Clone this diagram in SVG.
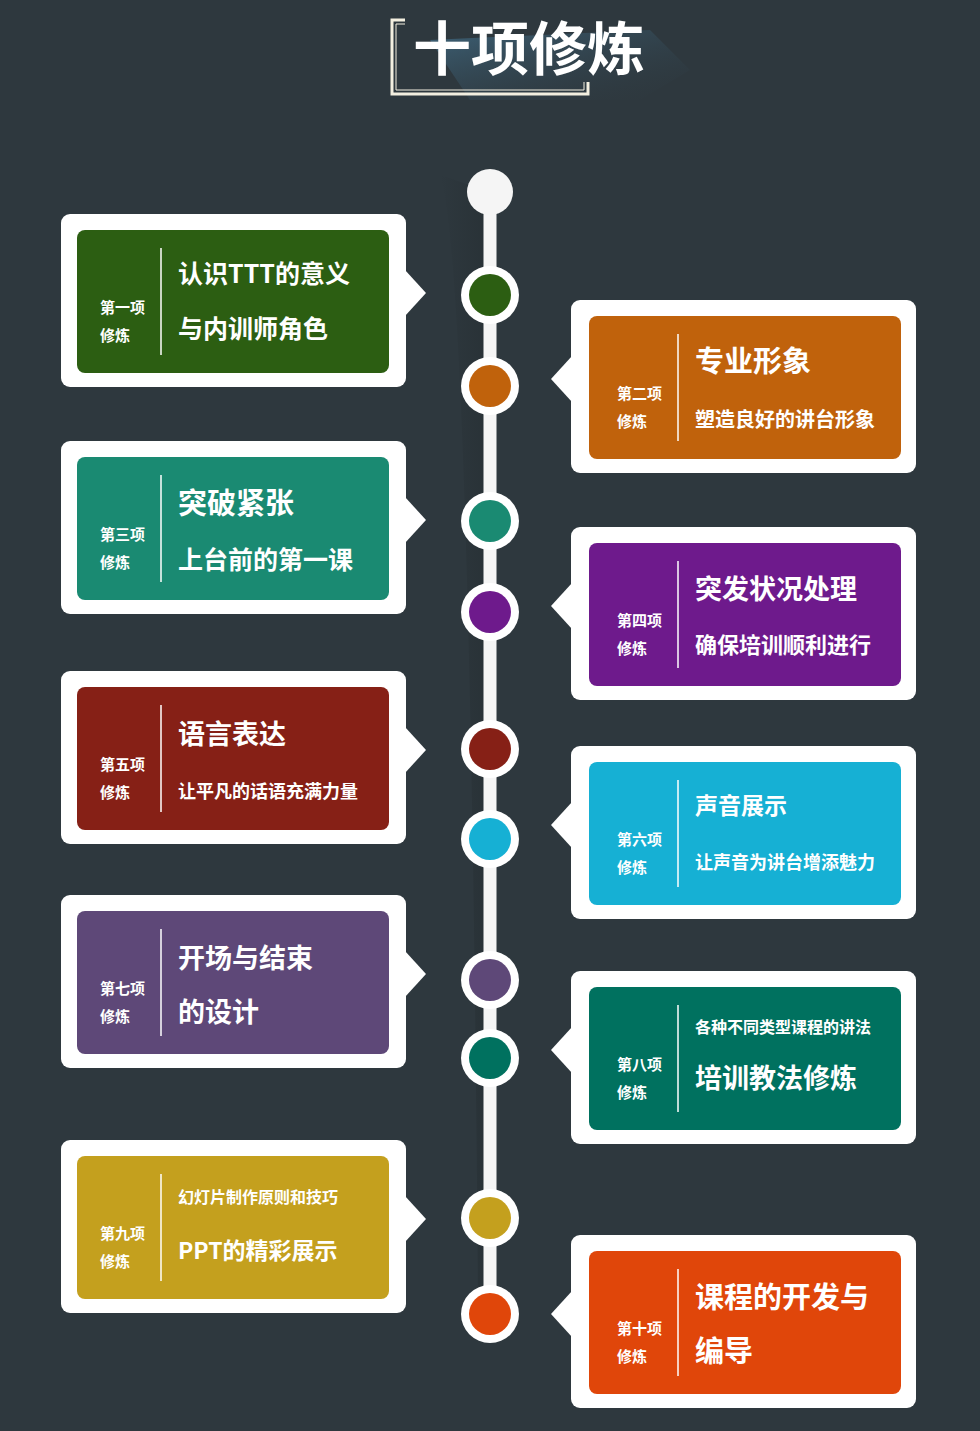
<svg xmlns="http://www.w3.org/2000/svg" width="980" height="1431" viewBox="0 0 980 1431">
<style>
text{font-family:"Noto Sans CJK SC","Liberation Sans",sans-serif;font-weight:bold;fill:#fff}
.lb{font-size:15px}
.card{fill:#fff}
.div{stroke:#fff;stroke-width:1.5}
.ring{fill:#fff}
</style>
<defs>
<linearGradient id="sh" x1="0" y1="0" x2="1" y2="1"><stop offset="0" stop-color="#3d6278"/><stop offset="1" stop-color="#2e383e" stop-opacity="0"/></linearGradient>
<linearGradient id="ls" x1="0" y1="0" x2="1" y2="0"><stop offset="0" stop-color="#1e2528" stop-opacity="0"/><stop offset="1" stop-color="#1e2528" stop-opacity="0.6"/></linearGradient>
</defs>
<rect width="980" height="1431" fill="#2e383e"/>
<g id="title">
<polygon points="430,40 650,30 690,70 640,100 470,100" fill="url(#sh)"/>
<path d="M405,20 H392 V94 H588 V82" fill="none" stroke="#f3efe0" stroke-width="3"/>
<path d="M405,24 H396 V90 H584 V82" fill="none" stroke="#f3efe0" stroke-width="1"/>
<text x="413" y="70" font-size="58">十项修炼</text>
</g>
<g id="connectors">
<path d="M440,175 Q470,260 478,1300 L484,1300 L484,190 Z" fill="url(#ls)" opacity="0.5"/>
<line x1="490" y1="192" x2="490" y2="1314" stroke="#f5f5f5" stroke-width="13"/>
<circle cx="490" cy="192" r="23" fill="#f5f5f5"/>
</g>
<g id="circles">
<circle class="ring" cx="490" cy="295" r="29"/><circle cx="490" cy="295" r="21" fill="#2c5e12"/>
<circle class="ring" cx="490" cy="386" r="29"/><circle cx="490" cy="386" r="21" fill="#c0620c"/>
<circle class="ring" cx="490" cy="521" r="29"/><circle cx="490" cy="521" r="21" fill="#1a8a72"/>
<circle class="ring" cx="490" cy="612" r="29"/><circle cx="490" cy="612" r="21" fill="#6e1a8c"/>
<circle class="ring" cx="490" cy="749" r="29"/><circle cx="490" cy="749" r="21" fill="#862016"/>
<circle class="ring" cx="490" cy="839" r="29"/><circle cx="490" cy="839" r="21" fill="#16b0d4"/>
<circle class="ring" cx="490" cy="980" r="29"/><circle cx="490" cy="980" r="21" fill="#5e4878"/>
<circle class="ring" cx="490" cy="1058" r="29"/><circle cx="490" cy="1058" r="21" fill="#00715f"/>
<circle class="ring" cx="490" cy="1218" r="29"/><circle cx="490" cy="1218" r="21" fill="#c4a01e"/>
<circle class="ring" cx="490" cy="1314" r="29"/><circle cx="490" cy="1314" r="21" fill="#e0460a"/>
</g>
<g id="n1"><rect class="card" x="61" y="214" width="345" height="173" rx="9"/><polygon class="card" points="405,270 426,293 405,316"/>
<rect x="77" y="230" width="312" height="143" rx="8" fill="#2c5e12"/><line class="div" x1="161" y1="248" x2="161" y2="355"/>
<text class="lb" x="100" y="313">第一项</text><text class="lb" x="100" y="341">修炼</text>
<text x="178" y="283" font-size="25">认识TTT的意义</text><text x="178" y="338" font-size="25">与内训师角色</text></g>
<g id="n2"><rect class="card" x="571" y="300" width="345" height="173" rx="9"/><polygon class="card" points="572,356 551,379 572,402"/>
<rect x="589" y="316" width="312" height="143" rx="8" fill="#c0620c"/><line class="div" x1="678" y1="334" x2="678" y2="441"/>
<text class="lb" x="617" y="399">第二项</text><text class="lb" x="617" y="427">修炼</text>
<text x="695" y="372" font-size="29">专业形象</text><text x="695" y="427" font-size="20">塑造良好的讲台形象</text></g>
<g id="n3"><rect class="card" x="61" y="441" width="345" height="173" rx="9"/><polygon class="card" points="405,497 426,520 405,543"/>
<rect x="77" y="457" width="312" height="143" rx="8" fill="#1a8a72"/><line class="div" x1="161" y1="475" x2="161" y2="582"/>
<text class="lb" x="100" y="540">第三项</text><text class="lb" x="100" y="568">修炼</text>
<text x="178" y="514" font-size="29">突破紧张</text><text x="178" y="569" font-size="25">上台前的第一课</text></g>
<g id="n4"><rect class="card" x="571" y="527" width="345" height="173" rx="9"/><polygon class="card" points="572,583 551,606 572,629"/>
<rect x="589" y="543" width="312" height="143" rx="8" fill="#6e1a8c"/><line class="div" x1="678" y1="561" x2="678" y2="668"/>
<text class="lb" x="617" y="626">第四项</text><text class="lb" x="617" y="654">修炼</text>
<text x="695" y="599" font-size="27">突发状况处理</text><text x="695" y="653" font-size="22">确保培训顺利进行</text></g>
<g id="n5"><rect class="card" x="61" y="671" width="345" height="173" rx="9"/><polygon class="card" points="405,727 426,750 405,773"/>
<rect x="77" y="687" width="312" height="143" rx="8" fill="#862016"/><line class="div" x1="161" y1="705" x2="161" y2="812"/>
<text class="lb" x="100" y="770">第五项</text><text class="lb" x="100" y="798">修炼</text>
<text x="178" y="744" font-size="27">语言表达</text><text x="178" y="798" font-size="18">让平凡的话语充满力量</text></g>
<g id="n6"><rect class="card" x="571" y="746" width="345" height="173" rx="9"/><polygon class="card" points="572,802 551,825 572,848"/>
<rect x="589" y="762" width="312" height="143" rx="8" fill="#16b0d4"/><line class="div" x1="678" y1="780" x2="678" y2="887"/>
<text class="lb" x="617" y="845">第六项</text><text class="lb" x="617" y="873">修炼</text>
<text x="695" y="814" font-size="23">声音展示</text><text x="695" y="869" font-size="18">让声音为讲台增添魅力</text></g>
<g id="n7"><rect class="card" x="61" y="895" width="345" height="173" rx="9"/><polygon class="card" points="405,951 426,974 405,997"/>
<rect x="77" y="911" width="312" height="143" rx="8" fill="#5e4878"/><line class="div" x1="161" y1="929" x2="161" y2="1036"/>
<text class="lb" x="100" y="994">第七项</text><text class="lb" x="100" y="1022">修炼</text>
<text x="178" y="968" font-size="27">开场与结束</text><text x="178" y="1022" font-size="27">的设计</text></g>
<g id="n8"><rect class="card" x="571" y="971" width="345" height="173" rx="9"/><polygon class="card" points="572,1027 551,1050 572,1073"/>
<rect x="589" y="987" width="312" height="143" rx="8" fill="#00715f"/><line class="div" x1="678" y1="1005" x2="678" y2="1112"/>
<text class="lb" x="617" y="1070">第八项</text><text class="lb" x="617" y="1098">修炼</text>
<text x="695" y="1033" font-size="16">各种不同类型课程的讲法</text><text x="695" y="1088" font-size="27">培训教法修炼</text></g>
<g id="n9"><rect class="card" x="61" y="1140" width="345" height="173" rx="9"/><polygon class="card" points="405,1196 426,1219 405,1242"/>
<rect x="77" y="1156" width="312" height="143" rx="8" fill="#c4a01e"/><line class="div" x1="161" y1="1174" x2="161" y2="1281"/>
<text class="lb" x="100" y="1239">第九项</text><text class="lb" x="100" y="1267">修炼</text>
<text x="178" y="1203" font-size="16">幻灯片制作原则和技巧</text><text x="178" y="1259" font-size="23">PPT的精彩展示</text></g>
<g id="n10"><rect class="card" x="571" y="1235" width="345" height="173" rx="9"/><polygon class="card" points="572,1291 551,1314 572,1337"/>
<rect x="589" y="1251" width="312" height="143" rx="8" fill="#e0460a"/><line class="div" x1="678" y1="1269" x2="678" y2="1376"/>
<text class="lb" x="617" y="1334">第十项</text><text class="lb" x="617" y="1362">修炼</text>
<text x="695" y="1308" font-size="29">课程的开发与</text><text x="695" y="1362" font-size="29">编导</text></g>
</svg>
